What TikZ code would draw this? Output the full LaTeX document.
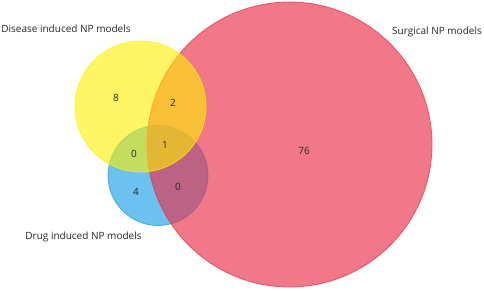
\documentclass[tikz,border=0pt]{standalone}
\usepackage{fontspec}
\setmainfont{Open Sans}
\usepackage{tikz}
\usetikzlibrary{positioning}
\definecolor{surgred}{HTML}{E8304A}
\definecolor{disyel}{HTML}{FFF000}
\definecolor{drugblue}{HTML}{1EA0E6}
\tikzset{
  set/.style={circle,draw=#1,fill=#1,fill opacity=0.65,draw opacity=0.75,line width=0.8pt,inner sep=0pt,outer sep=0pt},
  cnt/.style={font=\fontsize{10}{12}\selectfont,text=black!85},
  lbl/.style={font=\fontsize{10}{12}\selectfont,text=black!85,inner sep=0pt},
}

\begin{document}
\begin{tikzpicture}[x=1pt,y=-1pt]
 \useasboundingbox (0,0) rectangle (484,290);
 % sets, back to front
 \node[set=drugblue,minimum size=100pt] (drug) at (158,175.5){};
 \node[set=surgred,minimum size=285pt] (surg) at (289.5,144.5){};
 \node[set=disyel,fill opacity=0.6,minimum size=131pt] (dis) at (140.5,106.5){};
 % set names
 \node[lbl] (disname) at (66,29){Disease induced NP models};
 \node[lbl] (surgname) at (437,32){Surgical NP models};
 \node[lbl] (drugname) at (83.5,237){Drug induced NP models};
 % region counts
 \node[cnt] (n8) at (116,98){8};
 \node[cnt] (n2) at (173,103){2};
 \node[cnt] (n0a) at (134,154){0};
 \node[cnt] (n1) at (165,145){1};
 \node[cnt] (n4) at (136,192){4};
 \node[cnt] (n0b) at (178,187){0};
 \node[cnt] (n76) at (304,151){76};
\end{tikzpicture}
\end{document}
